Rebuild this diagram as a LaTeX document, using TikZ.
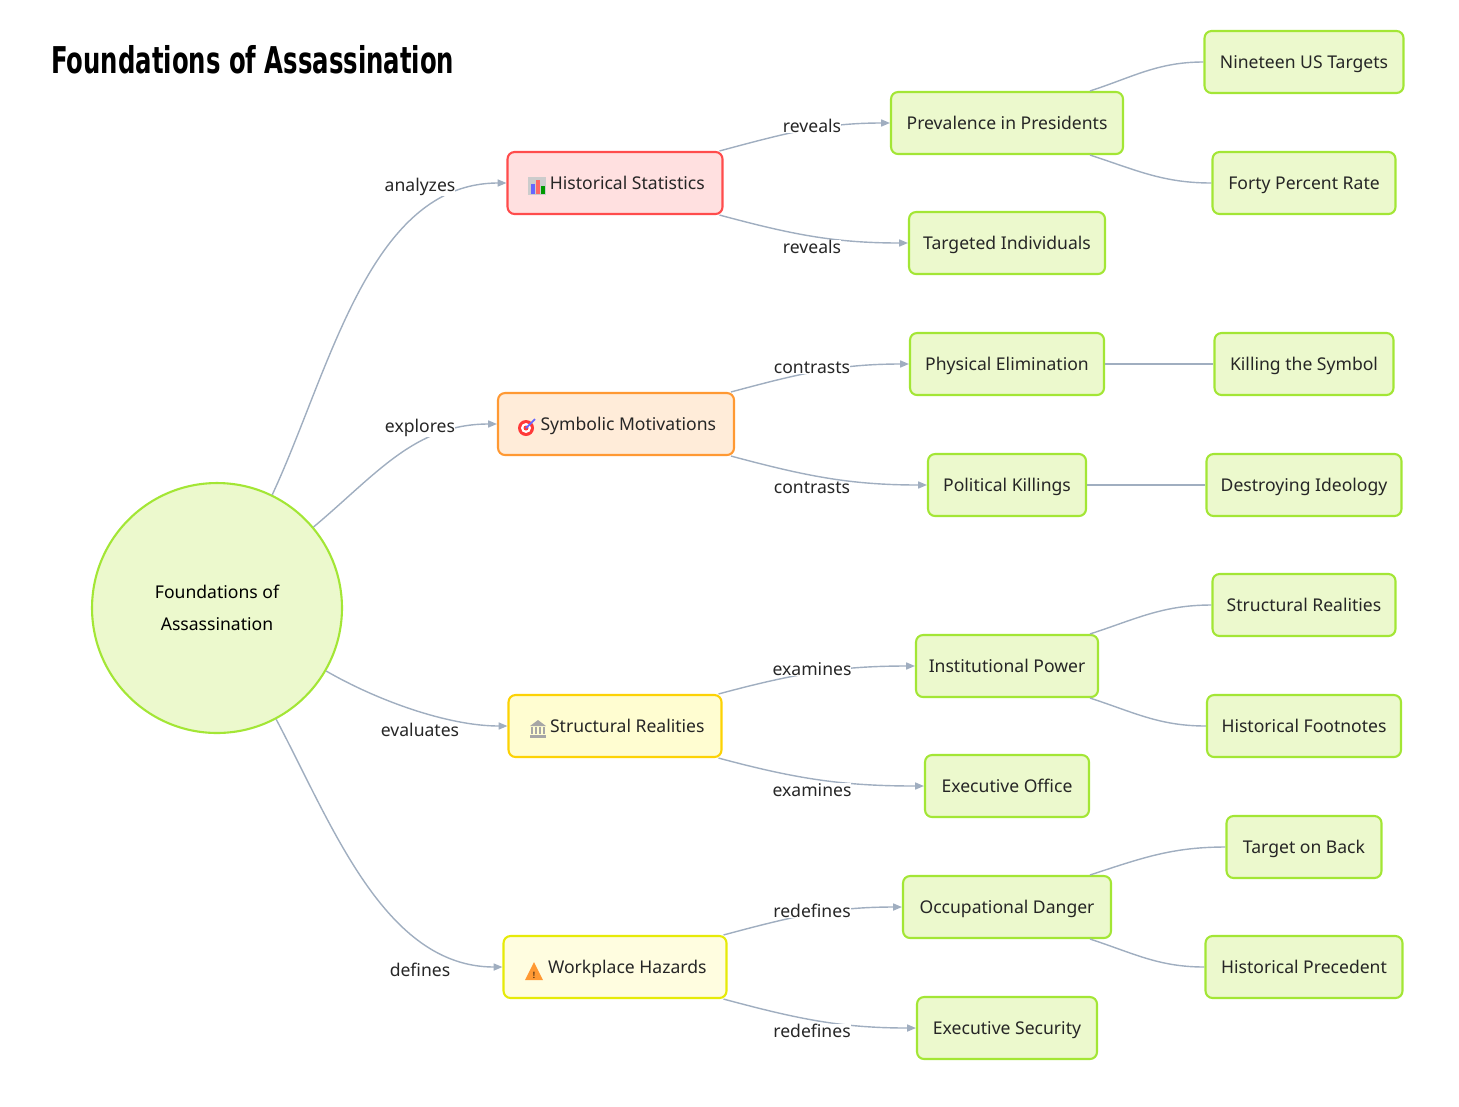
\documentclass[tikz,border=0pt]{standalone}
\usepackage{fontspec}
\setmainfont{Noto Sans}
\newfontfamily\titlefont{DejaVu Sans Condensed}
\usetikzlibrary{arrows.meta}
\definecolor{edge}{HTML}{A0AEC0}
\definecolor{gfill}{HTML}{ECF9CD}
\definecolor{gline}{HTML}{A3E635}
\tikzset{
 x=0.02cm,y=-0.02cm,
 box/.style={draw=gline,fill=gfill,rounded corners=4pt,line width=1.2pt,minimum height=1.24cm,text height=0.72em,text depth=0.02em,font=\fontsize{10}{12}\selectfont,text=black!85},
 red/.style={box,draw=red!70,fill=red!12},
 org/.style={box,draw=orange!80,fill=orange!15},
 yel/.style={box,draw=yellow!70!orange,fill=yellow!18},
 wy/.style={box,draw=yellow!60!lime,fill=yellow!12},
 e/.style={draw=edge,line width=0.8pt},
 a/.style={e,-{Triangle[length=5pt,width=4pt]}},
 lab/.style={font=\fontsize{10}{12}\selectfont,text=black!85,fill=white,inner sep=0pt},
}
\begin{document}
\begin{tikzpicture}
\useasboundingbox (0,0) rectangle (1459,1106);
\node[anchor=west,inner sep=0pt,font=\titlefont\bfseries\fontsize{20}{22}\selectfont] (title) at (51,60) {\scalebox{0.77}[1.05]{Foundations of Assassination}};
\node[circle,draw=gline,fill=gfill,line width=1.2pt,minimum size=5cm,align=center,font=\fontsize{10}{18}\selectfont] (root) at (217,608) {Foundations of\\Assassination};
\node[red,minimum width=4.3cm] (hs) at (615,183) {\hspace{1.4em}Historical Statistics};
\node[org,minimum width=4.72cm] (sm) at (616,424) {\hspace{1.4em}Symbolic Motivations};
\node[yel,minimum width=4.26cm] (sr) at (615,726) {\hspace{1.4em}Structural Realities};
\node[wy,minimum width=4.46cm] (wh) at (615,967) {\hspace{1.4em}Workplace Hazards};
% icons
\begin{scope}[shift={(537,186)}]
\fill[gray!40] (-9,-9) rectangle (9,9);
\fill[blue!60] (-6,8) rectangle (-2,-2);\fill[red!60] (-1,8) rectangle (3,-6);\fill[green!60!black] (4,8) rectangle (8,0);
\end{scope}
\begin{scope}[shift={(526,428)}]
\fill[red!70!pink] (0,0) circle (8);\fill[white] (0,0) circle (5);\fill[red!70!pink] (0,0) circle (2.5);
\draw[blue!60,line width=1pt] (0,0) -- (9,-9);
\end{scope}
\begin{scope}[shift={(538,729)}]
\fill[gray!70] (-8,-3) -- (0,-9) -- (8,-3) -- cycle;\fill[gray!70] (-8,6) rectangle (8,9);
\foreach \i in {-6,-2,2,6} \fill[gray!70] (\i-1,-2) rectangle (\i+1,5);
\end{scope}
\fill[orange!80] (525,980) -- (534,962) -- (543,980) -- cycle;
\node[font=\bfseries\tiny] at (534,975) {!};
\node[box,minimum width=4.64cm] (pp) at (1007,123) {Prevalence in Presidents};
\node[box,minimum width=3.92cm] (ti) at (1007,243) {Targeted Individuals};
\node[box,minimum width=3.88cm] (pe) at (1007,364) {Physical Elimination};
\node[box,minimum width=3.16cm] (pk) at (1007,485) {Political Killings};
\node[box,minimum width=3.64cm] (ip) at (1007,666) {Institutional Power};
\node[box,minimum width=3.28cm] (eo) at (1007,786) {Executive Office};
\node[box,minimum width=4.16cm] (od) at (1007,907) {Occupational Danger};
\node[box,minimum width=3.6cm] (es) at (1007,1028) {Executive Security};
\node[box,minimum width=3.98cm] (nu) at (1304,62) {Nineteen US Targets};
\node[box,minimum width=3.66cm] (fp) at (1304,183) {Forty Percent Rate};
\node[box,minimum width=3.58cm] (ks) at (1304,364) {Killing the Symbol};
\node[box,minimum width=3.9cm] (di) at (1304,485) {Destroying Ideology};
\node[box,minimum width=3.66cm] (sr2) at (1304,605) {Structural Realities};
\node[box,minimum width=3.88cm] (hf) at (1304,726) {Historical Footnotes};
\node[box,minimum width=3.1cm] (tb) at (1304,847) {Target on Back};
\node[box,minimum width=3.94cm] (hp) at (1304,967) {Historical Precedent};
% root edges
\draw[a] (root.64) to[out=65,in=180,looseness=0.9] (hs.west);
\draw[a] (root.40) to[out=40,in=180] (sm.west);
\draw[a] (root.-30) to[out=-30,in=180,looseness=0.8] (sr.west);
\draw[a] (root.-62) to[out=-62,in=180,looseness=0.9] (wh.west);
\node[lab] at (420,187) {analyzes};
\node[lab] at (420,428) {explores};
\node[lab] at (420,730) {evaluates};
\node[lab] at (420,970) {defines};
% level 2
\foreach \s/\t in {hs/pp,sm/pe,sr/ip,wh/od}{
 \draw[a] (\s.north east) ++(-4,0) to[out=15,in=180] (\t.west);
}
\foreach \s/\t in {hs/ti,sm/pk,sr/eo,wh/es}{
 \draw[a] (\s.south east) ++(-4,0) to[out=-15,in=180] (\t.west);
}
\node[lab] at (812,126) {reveals};\node[lab] at (812,247) {reveals};
\node[lab] at (812,368) {contrasts};\node[lab] at (812,488) {contrasts};
\node[lab] at (812,669) {examines};\node[lab] at (812,790) {examines};
\node[lab] at (812,911) {redefines};\node[lab] at (812,1031) {redefines};
% level 3
\foreach \s/\t in {pp/nu,ip/sr2,od/tb}{
 \draw[e] (\s.north -| 1090,0) to[out=18,in=180] (\t.west);
}
\foreach \s/\t in {pp/fp,ip/hf,od/hp}{
 \draw[e] (\s.south -| 1090,0) to[out=-18,in=180] (\t.west);
}
\draw[e] (pe.east) -- (ks.west);
\draw[e] (pk.east) -- (di.west);
\end{tikzpicture}
\end{document}
